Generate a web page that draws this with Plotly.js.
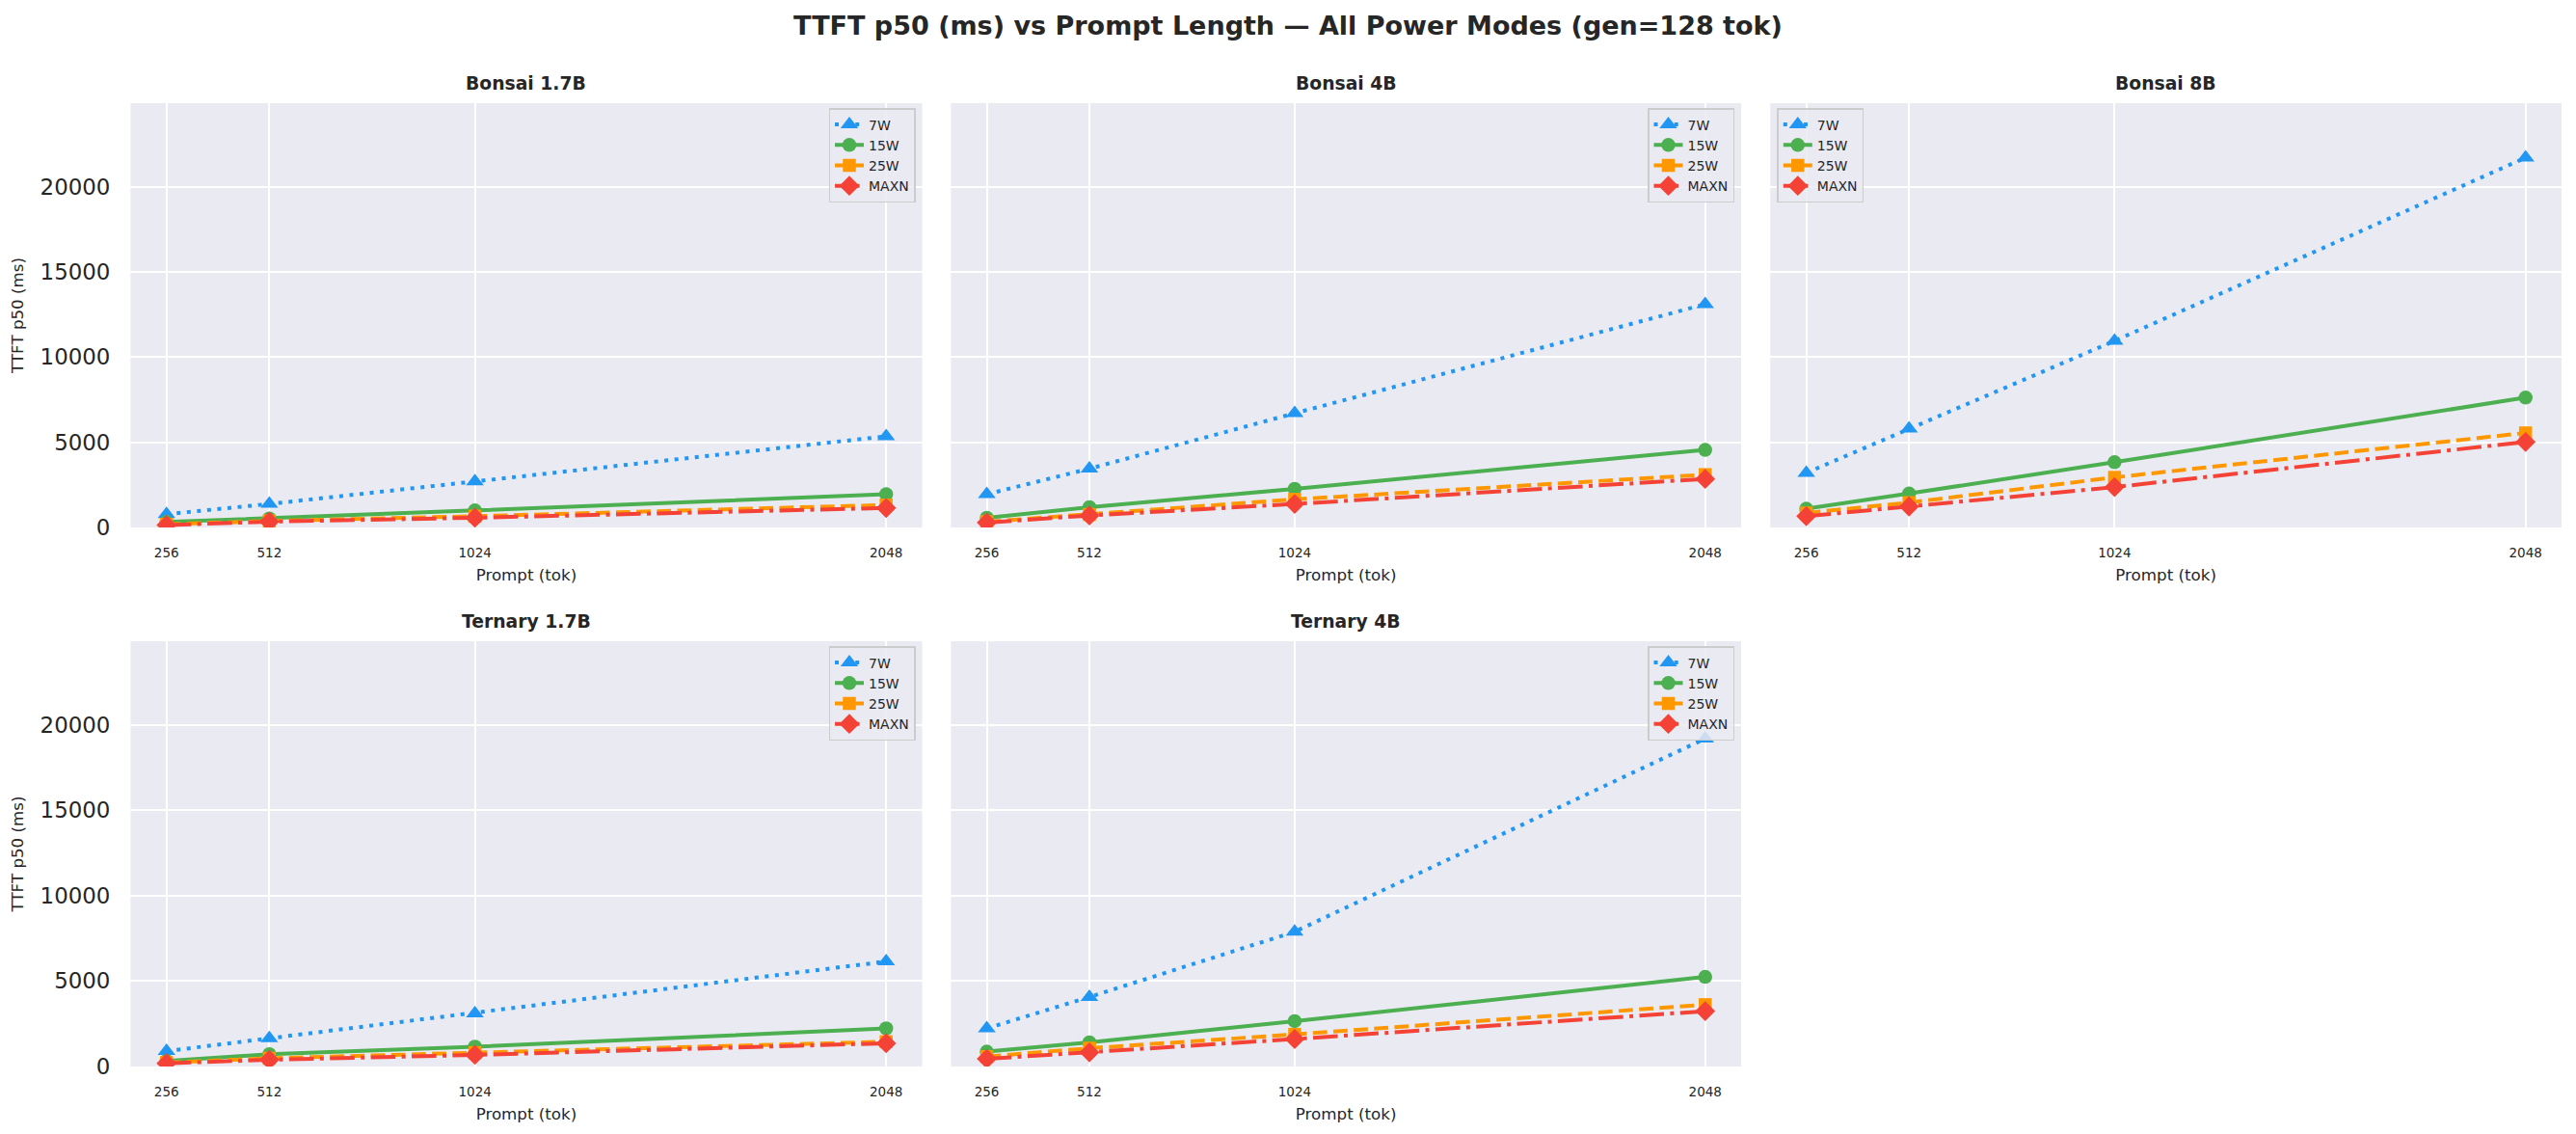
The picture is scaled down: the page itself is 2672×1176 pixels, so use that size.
<!DOCTYPE html>
<html>
<head>
<meta charset="utf-8">
<script src="https://cdn.plot.ly/plotly-3.0.1.min.js"></script>
<style>html,body{margin:0;padding:0;background:#fff;}</style>
</head>
<body>
<div id="chart" style="width:2672px;height:1176px;"></div>
<script>
// x axis: prompt length in tokens
var prompts = [256, 512, 1024, 2048];
var modes = ['7W', '15W', '25W', 'MAXN'];
var panelTitles = ['Bonsai 1.7B', 'Bonsai 4B', 'Bonsai 8B', 'Ternary 1.7B', 'Ternary 4B'];
var yTicks = [0, 5000, 10000, 15000, 20000];
var yTickText = ['0', '5000', '10000', '15000', '20000'];

// TTFT p50 (ms), one array per model / power mode
var bonsai17_7W   = [780, 1380, 2700, 5350];
var bonsai17_15W  = [320, 530, 1000, 1950];
var bonsai17_25W  = [190, 380, 660, 1320];
var bonsai17_MAXN = [140, 340, 570, 1140];

var bonsai4_7W   = [1950, 3450, 6700, 13100];
var bonsai4_15W  = [570, 1190, 2270, 4550];
var bonsai4_25W  = [340, 760, 1650, 3100];
var bonsai4_MAXN = [290, 700, 1380, 2850];

var bonsai8_7W   = [3200, 5800, 10950, 21700];
var bonsai8_15W  = [1100, 1990, 3830, 7620];
var bonsai8_25W  = [850, 1460, 2940, 5550];
var bonsai8_MAXN = [660, 1230, 2370, 5020];

var ternary17_7W   = [900, 1650, 3100, 6150];
var ternary17_15W  = [330, 720, 1160, 2230];
var ternary17_25W  = [230, 480, 810, 1450];
var ternary17_MAXN = [190, 390, 680, 1360];

var ternary4_7W   = [2230, 4070, 7890, 19200];
var ternary4_15W  = [870, 1415, 2655, 5250];
var ternary4_25W  = [580, 1070, 1880, 3620];
var ternary4_MAXN = [450, 830, 1610, 3240];

var panels = [
  [bonsai17_7W, bonsai17_15W, bonsai17_25W, bonsai17_MAXN],
  [bonsai4_7W, bonsai4_15W, bonsai4_25W, bonsai4_MAXN],
  [bonsai8_7W, bonsai8_15W, bonsai8_25W, bonsai8_MAXN],
  [ternary17_7W, ternary17_15W, ternary17_25W, ternary17_MAXN],
  [ternary4_7W, ternary4_15W, ternary4_25W, ternary4_MAXN]
];

// styling per power mode
var colors  = ['#2196F3', '#4CAF50', '#FF9800', '#F44336'];
var symbols = ['triangle-up', 'circle', 'square', 'diamond'];
var msizes  = [16, 14.5, 13.5, 16];
var dashes  = ['4px,6.6px', 'solid', '14.8px,6.4px', '25.6px,6.4px,4px,6.4px'];

var W = 2672, H = 1176;
var FONT = 'DejaVu Sans';
var TXT = '#262626';

// subplot boxes in pixels [left, right, top, bottom]
var boxes = [
  [135.4, 956.5, 107, 547],
  [986.3, 1806, 107, 547],
  [1836.3, 2657, 107, 547],
  [135.4, 956.5, 665, 1106],
  [986.3, 1806, 665, 1106]
];

var data = [];
panels.forEach(function (series, p) {
  var sfx = p === 0 ? '' : String(p + 1);
  series.forEach(function (vals, m) {
    data.push({
      x: prompts,
      y: vals,
      name: modes[m],
      type: 'scatter',
      mode: 'lines+markers',
      xaxis: 'x' + sfx,
      yaxis: 'y' + sfx,
      legend: 'legend' + sfx,
      line: {color: colors[m], width: 4, dash: dashes[m]},
      marker: {color: colors[m], symbol: symbols[m], size: msizes[m], line: {width: 0}}
    });
  });
});

var layout = {
  width: W,
  height: H,
  margin: {l: 0, r: 0, t: 0, b: 0},
  paper_bgcolor: '#ffffff',
  plot_bgcolor: '#EAEAF2',
  font: {family: FONT, color: TXT},
  showlegend: true,
  title: {
    text: '<b>TTFT p50 (ms) vs Prompt Length — All Power Modes (gen=128 tok)</b>',
    font: {family: FONT, size: 27, color: TXT},
    x: 0.5, xanchor: 'center',
    y: 1 - 27 / H, yanchor: 'middle', yref: 'paper'
  },
  annotations: []
};

boxes.forEach(function (b, p) {
  var sfx = p === 0 ? '' : String(p + 1);
  var leftCol = (p === 0 || p === 3);
  layout['xaxis' + sfx] = {
    domain: [b[0] / W, b[1] / W],
    anchor: 'y' + sfx,
    range: [166.4, 2137.6],
    tickmode: 'array',
    tickvals: prompts,
    ticktext: prompts.map(String),
    tickfont: {family: FONT, size: 13.5, color: TXT},
    ticks: '',
    ticklabelstandoff: 16,
    showgrid: true,
    gridcolor: '#ffffff',
    gridwidth: 2,
    zeroline: false,
    showline: false,
    title: {text: 'Prompt (tok)', font: {family: FONT, size: 16.7, color: TXT}, standoff: 10}
  };
  layout['yaxis' + sfx] = {
    domain: [1 - b[3] / H, 1 - b[2] / H],
    anchor: 'x' + sfx,
    range: [0, 24900],
    tickmode: 'array',
    tickvals: yTicks,
    ticktext: yTickText,
    showticklabels: leftCol,
    tickfont: {family: FONT, size: 22.9, color: TXT},
    ticks: '',
    ticklabelstandoff: 20,
    showgrid: true,
    gridcolor: '#ffffff',
    gridwidth: 2,
    zeroline: false,
    showline: false,
    title: leftCol ? {text: 'TTFT p50 (ms)', font: {family: FONT, size: 16.7, color: TXT}, standoff: 12} : {text: ''}
  };
  layout.annotations.push({
    text: '<b>' + panelTitles[p] + '</b>',
    xref: 'paper', yref: 'paper',
    x: (b[0] + b[1]) / 2 / W,
    y: 1 - (b[2] - 21) / H,
    xanchor: 'center', yanchor: 'middle',
    showarrow: false,
    font: {family: FONT, size: 18.75, color: TXT}
  });
  var upperLeft = (p === 2);
  layout['legend' + sfx] = {
    x: upperLeft ? (b[0] + 7) / W : (b[1] - 7) / W,
    xanchor: upperLeft ? 'left' : 'right',
    y: 1 - (b[2] + 5) / H,
    yanchor: 'top',
    xref: 'paper', yref: 'paper',
    bgcolor: 'rgba(234,234,242,0.85)',
    bordercolor: '#cccccc',
    borderwidth: 1.5,
    font: {family: FONT, size: 14, color: TXT},
    tracegroupgap: 0,
    itemwidth: 30
  };
});

Plotly.newPlot('chart', data, layout, {displayModeBar: false, staticPlot: true});
</script>
</body>
</html>
